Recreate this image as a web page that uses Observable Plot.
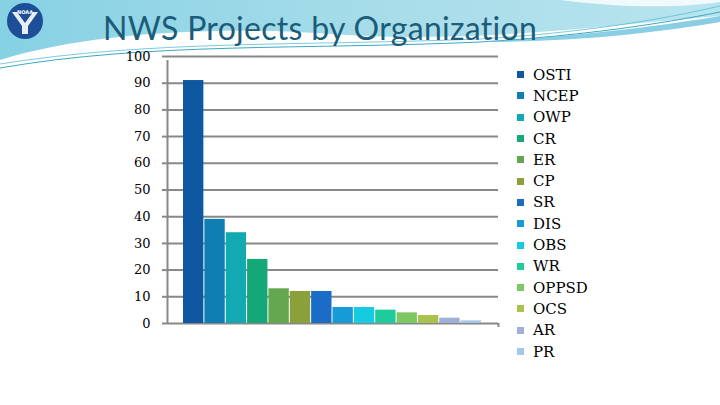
<!DOCTYPE html>
<html>
<head>
<meta charset="utf-8">
<script src="https://cdn.jsdelivr.net/npm/d3@7"></script>
<script src="https://cdn.jsdelivr.net/npm/@observablehq/plot@0.6"></script>
<style>
  html, body { margin: 0; padding: 0; background: #fff; }
  #slide { position: relative; width: 720px; height: 405px; overflow: hidden; background: #fff; }
  #bg { position: absolute; left: 0; top: 0; }
  #title { position: absolute; left: 103px; top: 14px; font-family: Lato, "Open Sans", sans-serif; font-size: 32px; line-height: 28px; height: 28px; color: #1b5c78; white-space: nowrap; letter-spacing: 0.3px; }
  #chart { position: absolute; left: 0; top: 0; }
  #legend { position: absolute; left: 517px; top: 64px; font-family: "DejaVu Serif", serif; font-size: 15px; color: #000; }
  #legend .row { display: flex; align-items: center; height: 21.3px; }
  #legend .sw { width: 7px; height: 7px; margin-right: 9px; }
</style>
</head>
<body>
<div id="slide">
  <svg id="bg" width="720" height="405">
    <defs>
      <linearGradient id="g" x1="0" y1="0" x2="1" y2="0">
        <stop offset="0" stop-color="#86d1e4"/>
        <stop offset="0.5" stop-color="#a6dce9"/>
        <stop offset="1" stop-color="#b8e4ee"/>
      </linearGradient>
    </defs>
    <path d="M0,0 H720 V16 C600,26 470,44 330,34 C220,26 90,32 0,60 Z" fill="url(#g)"/>
    <path d="M560,0 C620,8 680,8 720,2 V0 Z" fill="#ffffff" opacity="0.8"/>
    <path d="M0,68 C150,42 300,50 480,42 C580,36 660,24 720,12" fill="none" stroke="#3aa8c4" stroke-width="1"/>
    <path d="M0,64 C150,40 300,46 480,39 C580,33 660,20 720,6" fill="none" stroke="#5bbcd4" stroke-width="0.8"/>
    <path d="M480,42 C580,36 660,26 720,16 V22 C660,32 580,42 480,42 Z" fill="#57b9d6" opacity="0.7"/>
    <circle cx="25" cy="21" r="18" fill="#1c4f97"/>
    <path d="M12,12 L22,26 L22,34 L28,34 L28,26 L38,12 L33,12 L25,23 L17,12 Z" fill="#ffffff" opacity="0.9"/>
    <text x="25" y="14" text-anchor="middle" font-family="DejaVu Sans" font-size="5" font-weight="bold" fill="#fff">NOAA</text>
  </svg>
  <div id="title">NWS Projects by Organization</div>
  <div id="chart"></div>
  <div id="legend"></div>
</div>
<script>
const orgs = ["OSTI","NCEP","OWP","CR","ER","CP","SR","DIS","OBS","WR","OPPSD","OCS","AR","PR"];
const projects = [91, 39, 34, 24, 13, 12, 12, 6, 6, 5, 4, 3, 2, 1];
const colors = ["#0d58a0","#0f7eb2","#13a9b3","#14a878","#64a750","#8b9f3b","#1a6cc6","#179bd7","#14cbe0","#1dcc9a","#7dc862","#a9c24c","#9fb0d6","#a6c8e8"];
const yTicks = [0,10,20,30,40,50,60,70,80,90,100];

const data = orgs.map((org, i) => ({org, i, value: projects[i], color: colors[i]}));
const xDomain = [-0.75, orgs.length + 0.75];

const chart = Plot.plot({
  width: 520,
  height: 340,
  marginLeft: 167,
  marginRight: 22,
  marginTop: 56,
  marginBottom: 17,
  style: {fontFamily: "DejaVu Serif, serif", fontSize: "13px", color: "#000", background: "transparent"},
  x: {domain: xDomain, axis: null},
  y: {domain: [0, 100], ticks: yTicks, label: null},
  marks: [
    Plot.ruleY(yTicks, {stroke: "#888", strokeWidth: 2}),
    Plot.axisY({ticks: yTicks, tickSize: 5, tickPadding: 12, stroke: "#888", strokeWidth: 2, strokeOpacity: 1, fill: "#000", label: null, fontSize: 13, fontFamily: "DejaVu Serif"}),
    Plot.ruleX([xDomain[0]], {y1: 0, y2: 100, stroke: "#888", strokeWidth: 2, insetBottom: -4}),
    Plot.ruleX([xDomain[1]], {y1: 0, y2: 0, stroke: "#888", strokeWidth: 2, insetBottom: -4}),
    Plot.rectY(data, {x1: "i", x2: d => d.i + 1, y1: 0, y2: "value", fill: "color", insetRight: 1})
  ]
});
document.getElementById("chart").appendChild(chart);

const legend = document.getElementById("legend");
data.forEach(d => {
  const row = document.createElement("div");
  row.className = "row";
  const sw = document.createElement("span");
  sw.className = "sw";
  sw.style.background = d.color;
  const t = document.createElement("span");
  t.textContent = d.org;
  row.appendChild(sw);
  row.appendChild(t);
  legend.appendChild(row);
});
</script>
</body>
</html>
